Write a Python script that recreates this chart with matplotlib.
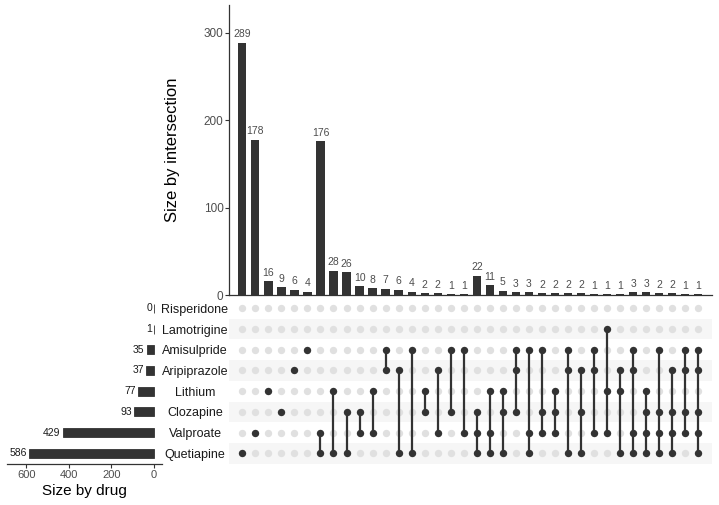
import matplotlib
matplotlib.use('Agg')
import matplotlib.pyplot as plt

plt.rcParams['font.family'] = ['Liberation Sans', 'DejaVu Sans']

drugs = ['Risperidone', 'Lamotrigine', 'Amisulpride', 'Aripiprazole',
         'Lithium', 'Clozapine', 'Valproate', 'Quetiapine']
set_sizes = [0, 1, 35, 37, 77, 93, 429, 586]

intersections = [
    ['Quetiapine'],
    ['Valproate'],
    ['Lithium'],
    ['Clozapine'],
    ['Aripiprazole'],
    ['Amisulpride'],
    ['Valproate', 'Quetiapine'],
    ['Lithium', 'Quetiapine'],
    ['Clozapine', 'Quetiapine'],
    ['Clozapine', 'Valproate'],
    ['Lithium', 'Valproate'],
    ['Amisulpride', 'Aripiprazole'],
    ['Aripiprazole', 'Quetiapine'],
    ['Amisulpride', 'Quetiapine'],
    ['Lithium', 'Clozapine'],
    ['Aripiprazole', 'Valproate'],
    ['Amisulpride', 'Clozapine'],
    ['Amisulpride', 'Valproate'],
    ['Clozapine', 'Valproate', 'Quetiapine'],
    ['Lithium', 'Valproate', 'Quetiapine'],
    ['Lithium', 'Clozapine', 'Quetiapine'],
    ['Amisulpride', 'Aripiprazole', 'Clozapine'],
    ['Amisulpride', 'Valproate', 'Quetiapine'],
    ['Amisulpride', 'Clozapine', 'Valproate'],
    ['Lithium', 'Clozapine', 'Valproate'],
    ['Amisulpride', 'Aripiprazole', 'Quetiapine'],
    ['Aripiprazole', 'Clozapine', 'Quetiapine'],
    ['Amisulpride', 'Aripiprazole', 'Valproate'],
    ['Lamotrigine', 'Lithium', 'Valproate'],
    ['Aripiprazole', 'Lithium', 'Quetiapine'],
    ['Amisulpride', 'Aripiprazole', 'Valproate', 'Quetiapine'],
    ['Lithium', 'Clozapine', 'Valproate', 'Quetiapine'],
    ['Amisulpride', 'Clozapine', 'Valproate', 'Quetiapine'],
    ['Aripiprazole', 'Clozapine', 'Valproate', 'Quetiapine'],
    ['Amisulpride', 'Aripiprazole', 'Clozapine', 'Valproate'],
    ['Amisulpride', 'Aripiprazole', 'Clozapine', 'Valproate', 'Quetiapine'],
]
intersection_sizes = [289, 178, 16, 9, 6, 4, 176, 28, 26, 10, 8, 7, 6, 4, 2, 2, 1, 1,
                      22, 11, 5, 3, 3, 2, 2, 2, 2, 1, 1, 1, 3, 3, 2, 2, 1, 1]

DARK = '#333333'
LIGHT = '#e0e0e0'
STRIPE = '#f6f6f6'
TICK_GREY = '#4d4d4d'

W, H = 719, 505
fig = plt.figure(figsize=(W / 100, H / 100), dpi=100)

# figure-pixel layout
top_box = [229 / W, 1 - 295 / H, (712 - 229) / W, (295 - 5) / H]
mat_box = [229 / W, 1 - 463.7 / H, (712 - 229) / W, 165.7 / H]
left_box = [7 / W, 1 - 463.7 / H, (162 - 7) / W, 165.7 / H]

ax_top = fig.add_axes(top_box)
ax_mat = fig.add_axes(mat_box)
ax_left = fig.add_axes(left_box)

n_cols = len(intersection_sizes)
cols = list(range(n_cols))
xlim = (-1.02, 36.05)

# intersection bars
ax_top.bar(cols, intersection_sizes, width=0.64, color=DARK)
for x, v in zip(cols, intersection_sizes):
    ax_top.annotate(str(v), (x, v), xytext=(0, 2.5), textcoords='offset points',
                    ha='center', va='bottom', fontsize=7.5, color=TICK_GREY)
ax_top.set_xlim(*xlim)
ax_top.set_ylim(0, 332)
ax_top.set_yticks([0, 100, 200, 300])
ax_top.set_xticks([])
ax_top.tick_params(axis='y', labelsize=8.5, labelcolor=TICK_GREY, length=3,
                   color='#333333', width=0.8, pad=1)
for s in ['top', 'right']:
    ax_top.spines[s].set_visible(False)
for s in ['left', 'bottom']:
    ax_top.spines[s].set_color('#333333')
    ax_top.spines[s].set_linewidth(0.9)
ax_top.set_ylabel('Size by intersection', fontsize=12, labelpad=17)

# matrix
n_rows = len(drugs)
for r in range(n_rows):
    if r % 2 == 1:
        ax_mat.axhspan(r - 0.5, r + 0.5, color=STRIPE, zorder=0, lw=0)
for x, members in enumerate(intersections):
    rows = [drugs.index(d) for d in members]
    ax_mat.scatter([x] * n_rows, range(n_rows), s=28, color=LIGHT, zorder=1, lw=0)
    if len(rows) > 1:
        ax_mat.plot([x, x], [min(rows), max(rows)], color=DARK, lw=1.6, zorder=2)
    ax_mat.scatter([x] * len(rows), rows, s=28, color=DARK, zorder=3, lw=0)
ax_mat.set_xlim(*xlim)
ax_mat.set_ylim(n_rows - 0.5, -0.5)
ax_mat.set_xticks([])
ax_mat.set_yticks(range(n_rows))
ax_mat.set_yticklabels(drugs, ha='center', fontsize=9, color='#1a1a1a')
ax_mat.tick_params(axis='y', length=0, pad=24.5)
for s in ax_mat.spines.values():
    s.set_visible(False)

# set size bars
ax_left.barh(range(n_rows), set_sizes, height=0.44, color=DARK,
             edgecolor=DARK, linewidth=0.6)
for r, v in enumerate(set_sizes):
    ax_left.annotate(str(v), (v, r), xytext=(-1.5, 0), textcoords='offset points',
                     ha='right', va='center', fontsize=7.5, color='#1a1a1a')
ax_left.set_xlim(690, -37)
ax_left.set_ylim(n_rows - 0.5, -0.5)
ax_left.set_yticks([])
ax_left.set_xticks([600, 400, 200, 0])
ax_left.tick_params(axis='x', labelsize=8, labelcolor=TICK_GREY, length=3,
                    color='#333333', width=0.8, pad=1.5)
for s in ['top', 'right', 'left']:
    ax_left.spines[s].set_visible(False)
ax_left.spines['bottom'].set_color('#333333')
ax_left.spines['bottom'].set_linewidth(0.9)
ax_left.set_xlabel('Size by drug', fontsize=11, labelpad=3)

fig.savefig('out.png', dpi=100)
